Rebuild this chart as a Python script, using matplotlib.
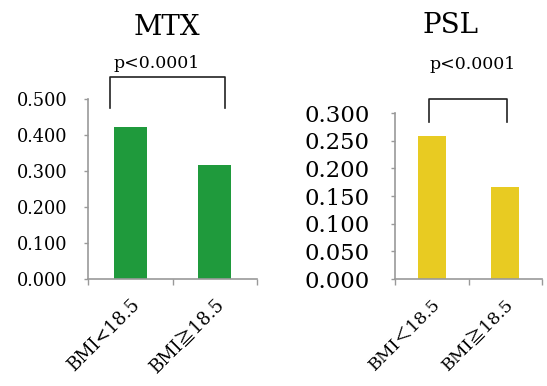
import matplotlib
matplotlib.use('Agg')
import matplotlib.pyplot as plt

# data
mtx_labels = ['BMI<18.5', 'BMI\u226718.5']
mtx_values = [0.422, 0.317]
psl_labels = ['BMI\uff1c18.5', 'BMI\u226718.5']
psl_values = [0.259, 0.166]

fonts = ['DejaVu Serif', 'Noto Sans CJK JP']
plt.rcParams['font.family'] = fonts

fig = plt.figure(figsize=(5.47, 3.86), dpi=100)

def style_axes(ax, ymax, ystep, labels, tick_fs, ypad, label_fs):
    n = int(round(ymax / ystep)) + 1
    ax.set_xlim(-0.5, 1.5)
    ax.set_ylim(0, ymax)
    ax.set_yticks([i * ystep for i in range(n)])
    ax.set_yticklabels(['%.3f' % (i * ystep) for i in range(n)], fontsize=tick_fs)
    ax.set_xticks([0, 1])
    ax.set_xticklabels(labels, rotation=45, ha='right', rotation_mode='anchor',
                       fontsize=label_fs)
    ax.set_xticks([-0.5, 0.5, 1.5], minor=True)
    ax.tick_params(axis='x', which='major', length=0, pad=12)
    ax.tick_params(axis='x', which='minor', length=4, color='#999999', width=1)
    ax.tick_params(axis='y', length=3, color='#999999', width=1, pad=ypad)
    for s in ['top', 'right']:
        ax.spines[s].set_visible(False)
    for s in ['left', 'bottom']:
        ax.spines[s].set_color('#999999')
        ax.spines[s].set_linewidth(1.2)

# MTX
ax1 = fig.add_axes([0.161, 0.277, 0.309, 0.466])
ax1.bar([0, 1], mtx_values, width=0.39, color='#1f9a3c')
style_axes(ax1, 0.5, 0.1, mtx_labels, 12.8, 12, 13)
ax1.plot([-0.24, -0.24, 1.12, 1.12], [0.475, 0.561, 0.561, 0.475], color='#222222',
         lw=1.2, clip_on=False)
ax1.text(0.31, 0.60, 'p<0.0001', ha='center', va='center', fontsize=12.5)
ax1.text(0.43, 0.70, 'MTX', ha='center', va='center', fontsize=20)

# PSL
ax2 = fig.add_axes([0.722, 0.277, 0.269, 0.430])
ax2.bar([0, 1], psl_values, width=0.38, color='#e8cb22')
style_axes(ax2, 0.3, 0.05, psl_labels, 16.4, 15, 12.5)
ax2.plot([-0.04, -0.04, 1.02, 1.02], [0.284, 0.326, 0.326, 0.284], color='#222222',
         lw=1.2, clip_on=False)
ax2.text(0.55, 0.387, 'p<0.0001', ha='center', va='center', fontsize=12.5)
ax2.text(0.26, 0.459, 'PSL', ha='center', va='center', fontsize=20)

fig.savefig('out.png', dpi=100, facecolor='white')
